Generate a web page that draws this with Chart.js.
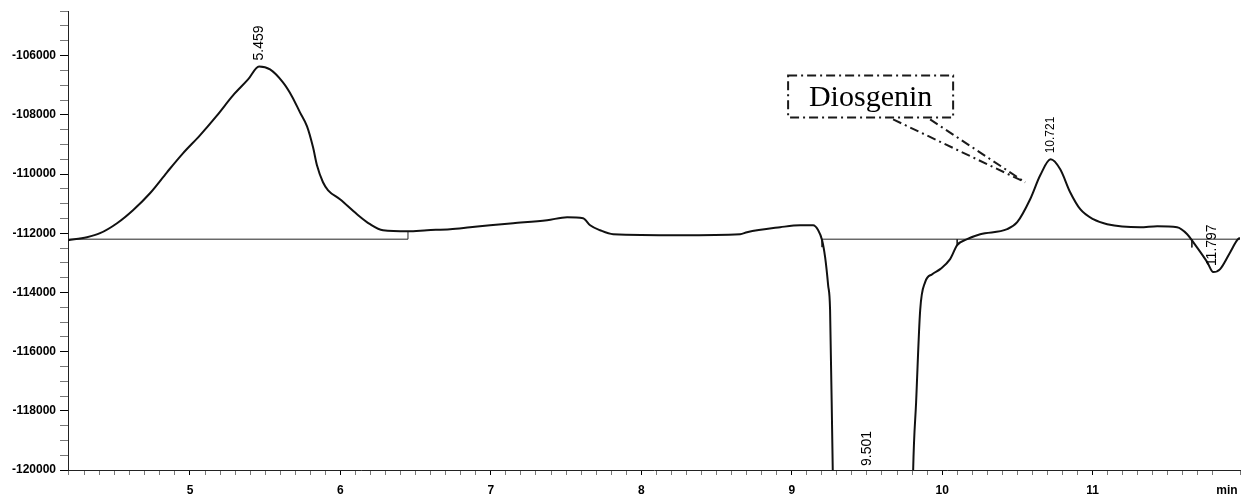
<!DOCTYPE html>
<html lang="en">
<head>
  <meta charset="UTF-8" />
  <title>Chromatogram - Diosgenin</title>
  <script src="https://cdn.jsdelivr.net/npm/chart.js"></script>
  <style>
    html, body { margin: 0; padding: 0; background: #fff; }
    #wrap { width: 1242px; height: 502px; }
  </style>
</head>
<body>
  <div id="wrap"><canvas id="chrom" width="1242" height="502"></canvas></div>

  <script>
    // retention time (min) and detector signal
    const time = [4.189, 4.315, 4.402, 4.515, 4.621, 4.734, 4.847, 4.953, 5.066, 5.180, 5.286, 5.386, 5.459, 5.532,
      5.618, 5.678, 5.731, 5.778, 5.818, 5.844, 5.884, 5.918, 5.997, 6.110, 6.197, 6.283, 6.449, 6.576, 6.729, 6.862,
      6.995, 7.148, 7.374, 7.507, 7.613, 7.660, 7.726, 7.813, 8.258, 8.657, 8.703, 8.923, 9.056, 9.142, 9.176, 9.202,
      9.222, 9.242, 9.255, 9.273, 9.290, 9.795, 9.807, 9.827, 9.854, 9.887, 9.934, 9.987, 10.053, 10.100, 10.166,
      10.253, 10.432, 10.499, 10.585, 10.652, 10.721, 10.785, 10.851, 10.918, 11.004, 11.097, 11.316, 11.430, 11.562,
      11.629, 11.669, 11.762, 11.802, 11.848, 11.915, 11.961, 11.98];
    const signal = [-112236, -112135, -112000, -111663, -111224, -110650, -109942, -109302, -108694, -108020, -107345,
      -106806, -106367, -106468, -106907, -107379, -107918, -108391, -109100, -109706, -110280, -110550, -110853,
      -111359, -111696, -111899, -111933, -111899, -111865, -111798, -111730, -111663, -111562, -111460, -111494,
      -111730, -111899, -112034, -112067, -112034, -111966, -111798, -111730, -111730, -111899, -112236, -112810,
      -113754, -114597, -120061, -124000, -124000, -120061, -117700, -114597, -113653, -113383, -113214, -112877,
      -112405, -112202, -112034, -111865, -111629, -110853, -110044, -109504, -109841, -110617, -111190, -111528,
      -111696, -111798, -111764, -111798, -112034, -112304, -112978, -113315, -113214, -112641, -112236, -112150];

    // integration baselines (null breaks the line)
    const baseTime = [4.189, 6.449, 6.449, 6.449, 9.202, 11.98];
    const baseSignal = [-112202, -112202, -111933, null, -112202, -112202];

    // small integration marks under the baseline
    const markTime = [9.202, 10.100, 11.660];
    const markSignal = [-112470, -112405, -112480];

    // peak labels
    const peakTimes = [5.459, 9.501, 10.721, 11.797];
    const peakHeights = [-106367, -124000, -109504, -113315];

    // callout
    const calloutText = 'Diosgenin';
    const calloutTime = [8.976, 10.073];
    const calloutSignal = [-106671, -108087];
    const leaderFrom = [9.674, 9.920];
    const leaderTo = [10.552, -110280];

    const toPts = (xs, ys) => xs.map((t, i) => ({ x: t, y: ys[i] }));
    const isWhole = (v, step) => Math.abs(v / step - Math.round(v / step)) < 1e-6;

    const markPts = [];
    markTime.forEach((t, i) => {
      markPts.push({ x: t, y: -112202 }, { x: t, y: markSignal[i] }, { x: t, y: null });
    });

    // the scanned labels are not all the same size
    const peakFontSize = [14, 14, 12, 14];

    const labelPlugin = {
      id: 'chromLabels',
      afterDatasetsDraw(chart) {
        const { ctx, chartArea, scales: { x, y } } = chart;
        ctx.save();
        ctx.fillStyle = '#000';

        // retention time labels, written upward above each peak
        ctx.textAlign = 'left';
        ctx.textBaseline = 'middle';
        peakTimes.forEach((t, i) => {
          const px = x.getPixelForValue(t);
          let py = y.getPixelForValue(peakHeights[i]);
          py = py > chartArea.bottom ? chartArea.bottom - 4 : py - 6;
          ctx.font = peakFontSize[i] + 'px "Liberation Sans", Arial, sans-serif';
          ctx.save();
          ctx.translate(px, py);
          ctx.rotate(-Math.PI / 2);
          ctx.fillText(t.toFixed(3), 0, 0);
          ctx.restore();
        });

        // unit at the end of the time axis
        ctx.font = 'bold 12px "Liberation Sans", Arial, sans-serif';
        ctx.textAlign = 'center';
        ctx.fillText('min', chartArea.right - 13, chartArea.bottom + 21);

        // dash-dot callout box
        const bx0 = x.getPixelForValue(calloutTime[0]);
        const bx1 = x.getPixelForValue(calloutTime[1]);
        const by0 = y.getPixelForValue(calloutSignal[0]);
        const by1 = y.getPixelForValue(calloutSignal[1]);
        ctx.strokeStyle = '#1a1a1a';
        ctx.lineWidth = 2;
        ctx.setLineDash([9, 4, 2, 4]);
        ctx.strokeRect(bx0, by0, bx1 - bx0, by1 - by0);

        const ex = x.getPixelForValue(leaderTo[0]);
        const ey = y.getPixelForValue(leaderTo[1]);
        leaderFrom.forEach(t => {
          ctx.beginPath();
          ctx.moveTo(x.getPixelForValue(t), by1 + 2);
          ctx.lineTo(ex, ey);
          ctx.stroke();
        });
        ctx.setLineDash([]);

        ctx.font = '30px "Liberation Serif", "Times New Roman", serif';
        ctx.textAlign = 'center';
        ctx.textBaseline = 'alphabetic';
        ctx.fillText(calloutText, (bx0 + bx1) / 2, (by0 + by1) / 2 + 10);
        ctx.restore();
      }
    };

    const tickFont = { family: 'Liberation Sans', size: 12, weight: 'bold' };

    new Chart(document.getElementById('chrom'), {
      type: 'line',
      data: {
        datasets: [
          {
            data: toPts(time, signal),
            borderColor: '#111',
            borderWidth: 2,
            pointRadius: 0,
            cubicInterpolationMode: 'monotone'
          },
          {
            data: toPts(baseTime, baseSignal),
            borderColor: '#222',
            borderWidth: 1,
            pointRadius: 0,
            tension: 0
          },
          {
            data: markPts,
            borderColor: '#222',
            borderWidth: 1,
            pointRadius: 0,
            tension: 0
          }
        ]
      },
      options: {
        responsive: false,
        animation: false,
        layout: { padding: { top: 8, right: 2, left: 0, bottom: 0 } },
        plugins: {
          legend: { display: false },
          tooltip: { enabled: false }
        },
        scales: {
          x: {
            type: 'linear',
            min: 4.189,
            max: 11.98,
            afterFit(scale) {
              scale.height = 32;
              // tick padding would otherwise eat into the right edge
              scale.paddingRight = 0;
              scale.paddingLeft = 0;
            },
            border: { display: true, color: '#222', width: 1, dash: [7, 2] },
            grid: {
              drawOnChartArea: false,
              tickLength: 5,
              tickColor: c => (c.tick && isWhole(c.tick.value, 1) ? '#000' : '#777')
            },
            ticks: {
              stepSize: 0.1,
              autoSkip: false,
              maxRotation: 0,
              padding: 8,
              color: '#000',
              font: tickFont,
              callback: v => (isWhole(v, 1) ? String(Math.round(v)) : '')
            }
          },
          y: {
            min: -120000,
            max: -104500,
            afterFit(scale) { scale.width = 68; },
            border: { display: true, color: '#222', width: 1, dash: [7, 2] },
            grid: {
              drawOnChartArea: false,
              tickLength: 8,
              tickColor: c => (c.tick && isWhole(c.tick.value, 2000) ? '#000' : '#777')
            },
            ticks: {
              stepSize: 500,
              autoSkip: false,
              padding: 4,
              color: '#000',
              font: tickFont,
              callback: v => (isWhole(v, 2000) ? String(v) : '')
            }
          }
        }
      },
      plugins: [labelPlugin]
    });
  </script>
</body>
</html>
